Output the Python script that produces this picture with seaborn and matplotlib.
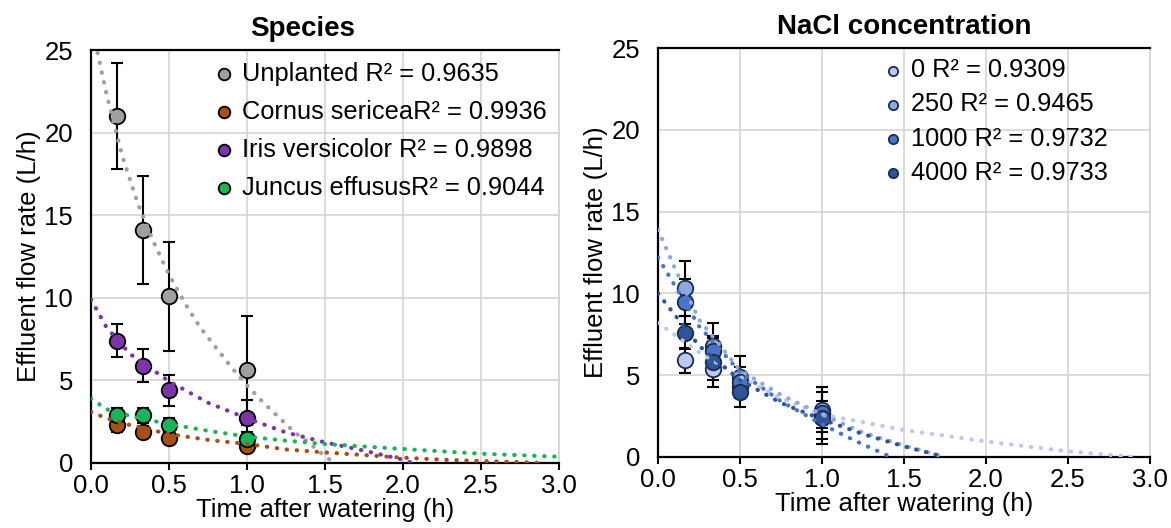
import numpy as np
import pandas as pd
import matplotlib
matplotlib.use("Agg")
import matplotlib.pyplot as plt
import seaborn as sns

# sampling times (h)
times = [0.167, 0.333, 0.5, 1.0]

# ---- Species panel ----
species_labels = ["Unplanted R² = 0.9635", "Cornus sericeaR² = 0.9936",
                  "Iris versicolor R² = 0.9898", "Juncus effususR² = 0.9044"]
species_colors = ["#a0a0a0", "#a5501b", "#7a35a8", "#1cb45a"]

unplanted_mean = [21.0, 14.1, 10.1, 5.6]
unplanted_sd = [3.2, 3.25, 3.3, 3.3]
cornus_mean = [2.3, 1.9, 1.5, 1.05]
cornus_sd = [0.4, 0.35, 0.3, 0.3]
iris_mean = [7.4, 5.9, 4.4, 2.7]
iris_sd = [1.0, 1.0, 0.95, 1.1]
juncus_mean = [2.9, 2.9, 2.3, 1.45]
juncus_sd = [0.45, 0.45, 0.4, 0.4]

# trendlines
unplanted_fit_x = [0.0, 0.05, 0.1, 0.2, 0.3, 0.4, 0.5, 0.6, 0.7, 0.8, 0.9, 1.0, 1.1, 1.2, 1.3, 1.4, 1.5, 1.56]
unplanted_fit_y = [26.6, 24.5, 22.3, 18.6, 15.7, 13.4, 11.4, 9.7, 8.2, 7.0, 5.8, 4.7, 3.7, 2.8, 1.9, 1.2, 0.4, 0.0]
cornus_fit_x = [0.0, 0.1, 0.25, 0.5, 0.75, 1.0, 1.25, 1.5, 1.75, 2.0, 2.25, 2.5, 2.75, 2.9]
cornus_fit_y = [3.1, 2.7, 2.3, 1.75, 1.4, 1.15, 0.82, 0.64, 0.48, 0.32, 0.2, 0.12, 0.05, 0.0]
iris_fit_x = [0.0, 0.1, 0.25, 0.5, 0.75, 1.0, 1.25, 1.5, 1.75, 2.0, 2.06]
iris_fit_y = [9.9, 8.2, 6.6, 4.95, 3.65, 2.7, 1.85, 1.25, 0.75, 0.2, 0.0]
juncus_fit_x = [0.0, 0.1, 0.25, 0.5, 0.75, 1.0, 1.25, 1.5, 2.0, 2.5, 3.0]
juncus_fit_y = [3.9, 3.25, 2.85, 2.35, 1.95, 1.6, 1.35, 1.15, 0.85, 0.56, 0.38]

# ---- NaCl panel ----
nacl_labels = ["0 R² = 0.9309", "250 R² = 0.9465", "1000 R² = 0.9732", "4000 R² = 0.9733"]
nacl_colors = ["#bcc8ec", "#8eaadc", "#4a74c6", "#2f5597"]

nacl0_mean = [5.9, 5.4, 4.3, 2.6]
nacl0_sd = [0.75, 0.7, 0.6, 0.85]
nacl250_mean = [10.3, 6.8, 4.9, 2.9]
nacl250_sd = [1.7, 1.4, 1.3, 1.4]
nacl1000_mean = [9.5, 6.5, 4.6, 2.7]
nacl1000_sd = [1.4, 0.9, 0.9, 1.6]
nacl4000_mean = [7.6, 5.8, 4.0, 2.4]
nacl4000_sd = [1.0, 1.5, 0.95, 1.6]

nacl0_fit_x = [0.0, 0.25, 0.5, 0.75, 1.0, 1.5, 2.0, 2.5, 2.9]
nacl0_fit_y = [8.2, 6.4, 4.9, 3.6, 2.6, 1.65, 0.95, 0.35, 0.0]
nacl250_fit_x = [0.0, 0.1, 0.25, 0.5, 0.75, 1.0, 1.25, 1.5, 1.75]
nacl250_fit_y = [13.9, 11.6, 8.4, 5.3, 3.8, 2.6, 1.5, 0.7, 0.0]
nacl1000_fit_x = [0.0, 0.25, 0.5, 0.75, 1.0, 1.2, 1.42]
nacl1000_fit_y = [12.2, 8.0, 5.2, 3.4, 2.0, 1.0, 0.0]
nacl4000_fit_x = [0.0, 0.25, 0.5, 0.75, 1.0, 1.25, 1.5, 1.75]
nacl4000_fit_y = [10.0, 6.8, 4.7, 3.3, 2.3, 1.4, 0.65, 0.0]

sns.set_theme(style="whitegrid")
plt.rcParams["font.family"] = ["Liberation Sans", "DejaVu Sans"]
plt.rcParams["text.color"] = "black"
plt.rcParams["axes.labelcolor"] = "black"
plt.rcParams["xtick.color"] = "black"
plt.rcParams["ytick.color"] = "black"

DOT = (0, (0.1, 2.3))


def draw_series(ax, means, sds, fit_x, fit_y, color, label, edge="black"):
    sns.lineplot(x=fit_x, y=fit_y, ax=ax, color=color, linestyle=DOT, lw=3.0,
                 dash_capstyle="round", sort=False, estimator=None, zorder=5)
    ax.errorbar(times, means, yerr=sds, fmt="none", ecolor="black",
                elinewidth=1.5, capsize=4, capthick=1.5, zorder=3)
    sns.scatterplot(x=times, y=means, ax=ax, color=color, s=125,
                    edgecolor=edge, linewidth=1.3, zorder=4, label=label)


def style_axes(ax, title, title_x):
    ax.set_xlim(0, 3)
    ax.set_ylim(0, 25)
    ax.set_xticks(np.arange(0, 3.01, 0.5))
    ax.set_xticklabels([f"{v:.1f}" for v in np.arange(0, 3.01, 0.5)])
    ax.set_yticks(range(0, 26, 5))
    ax.grid(True, color="#d4d4d4", lw=1.2)
    for side in ["left", "bottom", "top"]:
        ax.spines[side].set_color("black")
        ax.spines[side].set_linewidth(1.6)
    ax.spines["right"].set_color("#d4d4d4")
    ax.tick_params(axis="x", length=5, width=1.5, color="black", labelsize=18.5, pad=3, bottom=True)
    ax.tick_params(axis="y", length=0, labelsize=18.5, pad=13)
    ax.set_xlabel("Time after watering (h)", fontsize=18.5, labelpad=0)
    ax.set_ylabel("Effluent flow rate (L/h)", fontsize=18.5, labelpad=2)
    ax.set_title(title, fontsize=20, fontweight="bold", x=title_x, pad=10)


fig = plt.figure(figsize=(11.71, 5.28), dpi=100)
ax1 = fig.add_axes([91 / 1171, 1 - 463 / 528, 468 / 1171, 413 / 528])
ax2 = fig.add_axes([658 / 1171, 1 - 457 / 528, 492 / 1171, 409 / 528])

draw_series(ax1, unplanted_mean, unplanted_sd, unplanted_fit_x, unplanted_fit_y, species_colors[0], species_labels[0])
draw_series(ax1, cornus_mean, cornus_sd, cornus_fit_x, cornus_fit_y, species_colors[1], species_labels[1])
draw_series(ax1, iris_mean, iris_sd, iris_fit_x, iris_fit_y, species_colors[2], species_labels[2])
draw_series(ax1, juncus_mean, juncus_sd, juncus_fit_x, juncus_fit_y, species_colors[3], species_labels[3])

navy = "#1b2a52"
draw_series(ax2, nacl0_mean, nacl0_sd, nacl0_fit_x, nacl0_fit_y, nacl_colors[0], nacl_labels[0], navy)
draw_series(ax2, nacl250_mean, nacl250_sd, nacl250_fit_x, nacl250_fit_y, nacl_colors[1], nacl_labels[1], navy)
draw_series(ax2, nacl1000_mean, nacl1000_sd, nacl1000_fit_x, nacl1000_fit_y, nacl_colors[2], nacl_labels[2], navy)
draw_series(ax2, nacl4000_mean, nacl4000_sd, nacl4000_fit_x, nacl4000_fit_y, nacl_colors[3], nacl_labels[3], navy)

style_axes(ax1, "Species", 0.453)
style_axes(ax2, "NaCl concentration", 0.5)

ax1.legend(loc="upper left", bbox_to_anchor=(0.265, 0.972), frameon=False,
           fontsize=18.3, markerscale=0.75, handlelength=0.7, handletextpad=0.35,
           labelspacing=0.55, borderpad=0, borderaxespad=0)
ax2.legend(loc="upper left", bbox_to_anchor=(0.46, 0.975), frameon=False,
           fontsize=18.3, markerscale=0.6, handlelength=0.7, handletextpad=0.35,
           labelspacing=0.4, borderpad=0, borderaxespad=0)

fig.savefig("out.png", dpi=100)
